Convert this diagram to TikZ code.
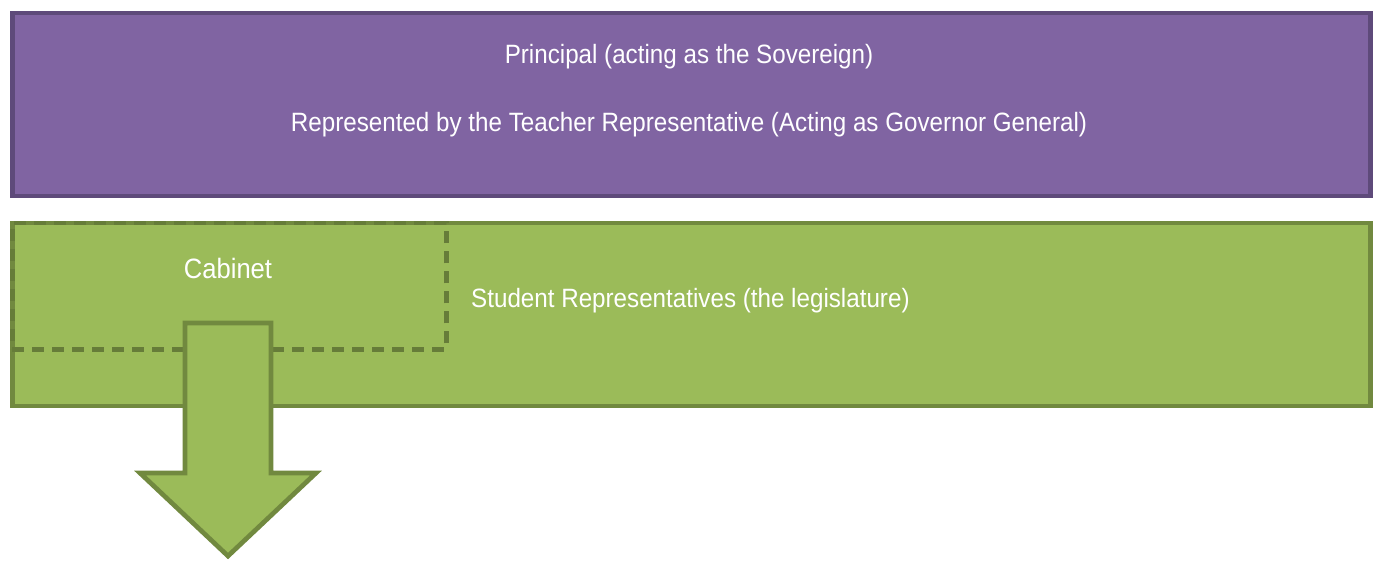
\documentclass[tikz,border=0pt]{standalone}
\usepackage{fontspec}
\setmainfont{Liberation Sans}[FakeStretch=0.913]
\usepackage{tikz}
\definecolor{crownfill}{HTML}{8064A2}
\definecolor{crownline}{HTML}{5E4A7A}
\definecolor{houseFill}{HTML}{9BBB59}
\definecolor{houseLine}{HTML}{71893F}
\definecolor{cabinetLine}{HTML}{667C39}

\begin{document}
\begin{tikzpicture}[x=1pt,y=-1pt]
\tikzstyle{every node}+=[inner sep=0pt]
\tikzstyle{crown box}=[draw=crownline,fill=crownfill,line width=4.5,anchor=north west]
\tikzstyle{house box}=[draw=houseLine,fill=houseFill,line width=4.5,anchor=north west]
\tikzstyle{white text}=[text=white,font=\fontsize{26.5}{32}\selectfont,anchor=base]
\useasboundingbox (0,0) rectangle (1375,561);
\node [crown box,minimum width=1358,minimum height=183] (crown) at (10,11) {};
\node [white text] (sovereign) at (689,63.5) {Principal (acting as the Sovereign)};
\node [white text] (governor) at (689,131.5) {Represented by the Teacher Representative (Acting as Governor General)};
\node [house box,minimum width=1358,minimum height=182.5] (house) at (10,221) {};
\node [draw=cabinetLine,line width=4.5,dash pattern=on 12 off 8,minimum width=434,minimum height=126,anchor=north west] (cabinetbox) at (10,221) {};
\node [white text,font=\fontsize{28}{34}\selectfont] (cabinet) at (228,278.5) {Cabinet};
\node [white text,anchor=base west] (legislature) at (471,307) {Student Representatives (the legislature)};
\draw [houseLine,fill=houseFill,line width=4.7,miter limit=10] (185,323) -- (271,323) -- (271,473) -- (316,473) -- (228,556) -- (140,473) -- (185,473) -- cycle;
\end{tikzpicture}
\end{document}
